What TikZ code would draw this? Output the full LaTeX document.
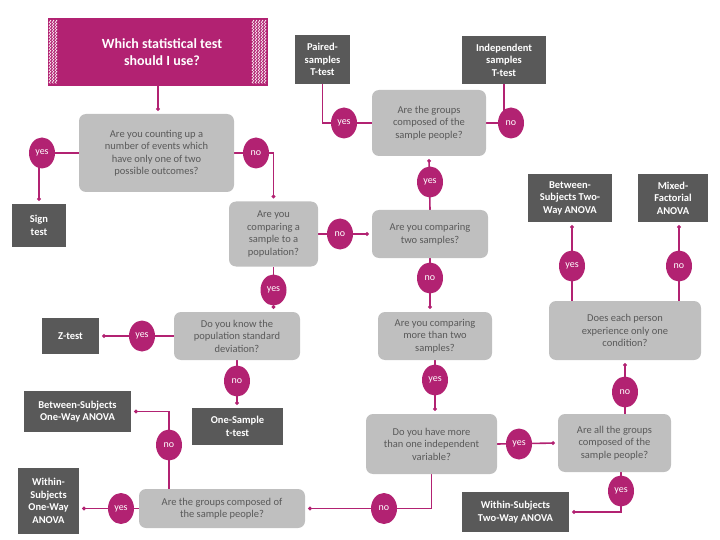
\documentclass[tikz,border=0pt]{standalone}
\usepackage{fontspec}
\setmainfont{Carlito}
\usetikzlibrary{arrows.meta,backgrounds,decorations.pathmorphing,shapes.geometric}
\definecolor{mag}{RGB}{178,34,114}
\definecolor{qgray}{RGB}{191,191,191}
\definecolor{dgray}{RGB}{89,89,89}
\begin{document}
\begin{tikzpicture}[x=1pt,y=-1pt,
  q/.style={fill=qgray,rounded corners=7pt,text=dgray,align=center,font=\fontsize{10.5}{12.5}\selectfont,inner sep=2pt},
  r/.style={fill=dgray,text=white,align=center,font=\fontsize{10.5}{12.5}\selectfont\bfseries,inner sep=2pt},
  yn/.style={ellipse,fill=mag,text=white,minimum width=26pt,minimum height=31pt,inner sep=0pt,font=\fontsize{10}{12}\selectfont},
  c/.style={draw=mag,line width=1.6pt,-{Circle[length=3.5pt]},shorten >=3pt},
  l/.style={draw=mag,line width=1.6pt}]
\useasboundingbox (0,0) rectangle (720,540);
\node[fill=mag,minimum width=220pt,minimum height=68pt,text=white,font=\fontsize{14}{17}\selectfont\bfseries,align=center,inner sep=0pt] (title) at (158,52) {\hspace*{8pt}Which statistical test\\\hspace*{8pt}should I use?};
\foreach \xx in {50,53,56,253,256,259,262,265}
  \draw[white,line width=0.5pt,decorate,decoration={zigzag,segment length=3pt,amplitude=1pt}] (\xx,20) -- (\xx,84);
\node[r,minimum width=55pt,minimum height=49pt] (paired) at (322.5,59.5) {Paired-\\samples\\T-test};
\node[r,minimum width=84pt,minimum height=48pt] (indep) at (504,60) {Independent\\samples\\T-test};
\node[q,minimum width=155pt,minimum height=78pt] (q1) at (156.5,153) {Are you counting up a\\number of events which\\have only one of two\\possible outcomes?};
\node[r,minimum width=54pt,minimum height=43pt] (sign) at (39,225.5) {Sign\\test};
\node[q,minimum width=89pt,minimum height=65pt] (samplepop) at (273.5,234) {Are you\\comparing a\\sample to a\\population?};
\node[q,minimum width=114pt,minimum height=66pt] (groupsT) at (429,123) {Are the groups\\composed of the\\sample people?};
\node[q,minimum width=116pt,minimum height=48pt] (twos) at (430,234) {Are you comparing\\two samples?};
\node[r,minimum width=84pt,minimum height=48pt] (btw2) at (570,198) {Between-\\Subjects Two-\\Way ANOVA};
\node[r,minimum width=70pt,minimum height=48pt] (mixed) at (673,198) {Mixed-\\Factorial\\ANOVA};
\node[r,minimum width=57pt,minimum height=36pt] (ztest) at (70.5,336) {Z-test};
\node[q,minimum width=126pt,minimum height=48pt] (knowpop) at (237,336) {Do you know the\\population standard\\deviation?};
\node[r,minimum width=107pt,minimum height=41pt] (btw1) at (77.5,411.5) {Between-Subjects\\One-Way ANOVA};
\node[r,minimum width=91pt,minimum height=37pt] (onesample) at (237.5,426.5) {One-Sample\\t-test};
\node[r,minimum width=61pt,minimum height=66pt] (within1) at (48.5,501) {Within-\\Subjects\\One-Way\\ANOVA};
\node[q,minimum width=166pt,minimum height=39pt] (groupsB) at (222,508.5) {Are the groups composed of\\the sample people?};
\node[q,minimum width=114pt,minimum height=48pt] (more2) at (435,336) {Are you comparing\\more than two\\samples?};
\node[q,minimum width=152pt,minimum height=59pt] (each) at (625,330.5) {Does each person\\experience only one\\condition?};
\node[q,minimum width=131pt,minimum height=60pt] (iv) at (431.5,444) {Do you have more\\than one independent\\variable?};
\node[q,minimum width=113pt,minimum height=58pt] (allg) at (614.5,443) {Are all the groups\\composed of the\\sample people?};
\node[r,minimum width=107pt,minimum height=40pt] (within2) at (515.5,512) {Within-Subjects\\Two-Way ANOVA};
% answer circles
\node[yn] (y1) at (42,153) {yes};
\node[yn] (n1) at (256,153) {no};
\node[yn] (y2) at (344,123) {yes};
\node[yn] (n2) at (511,123) {no};
\node[yn] (y3) at (430,182) {yes};
\node[yn] (n3) at (340,234) {no};
\node[yn] (y4) at (273.5,290) {yes};
\node[yn] (n5) at (430,278) {no};
\node[yn] (y8) at (572,266) {yes};
\node[yn] (n7) at (679,266) {no};
\node[yn] (y5) at (142,336) {yes};
\node[yn] (n4) at (237,381) {no};
\node[yn] (y6) at (435,380) {yes};
\node[yn] (n6) at (625,392) {no};
\node[yn] (n9) at (169,445) {no};
\node[yn] (y7) at (519,444) {yes};
\node[yn] (y10) at (121,508.5) {yes};
\node[yn] (n8) at (384,508.5) {no};
\node[yn] (y9) at (621,491) {yes};
\begin{scope}[on background layer]
\draw[c] (title.south) -- (title.south|-q1.north);
\draw[c] (q1.west) -- (y1.center) -| (sign.north);
\draw[c] (q1.east) -- (n1.center) -| (samplepop.north);
\draw[l] (paired.south) |- (y2.center) -- (groupsT.west);
\draw[l] (groupsT.east) -- (n2.center) -| (indep.south);
\draw[c] (twos.north) -- (groupsT.south);
\draw[c] (samplepop.east) -- (twos.west);
\draw[c] (samplepop.south) -- (samplepop.south|-knowpop.north);
\draw[c] (knowpop.west) -- (ztest.east);
\draw[c] (knowpop.south) -- (knowpop.south|-onesample.north);
\draw[c] (twos.south) -- (twos.south|-more2.north);
\draw[c] (more2.south) -- (more2.south|-iv.north);
\draw[c] (iv.east) -- (allg.west);
\draw[c] (n6|-allg.north) -- (n6|-each.south);
\draw[c] (y8|-each.north) -- (y8|-btw2.south);
\draw[c] (n7|-each.north) -- (n7|-mixed.south);
\draw[c] (y9|-allg.south) |- (within2.east);
\draw[c] (iv.south) |- (groupsB.east);
\draw[c] (n9|-groupsB.north) |- (btw1.east);
\draw[c] (groupsB.west) -- (within1.east|-groupsB.west);
\end{scope}
\end{tikzpicture}
\end{document}
